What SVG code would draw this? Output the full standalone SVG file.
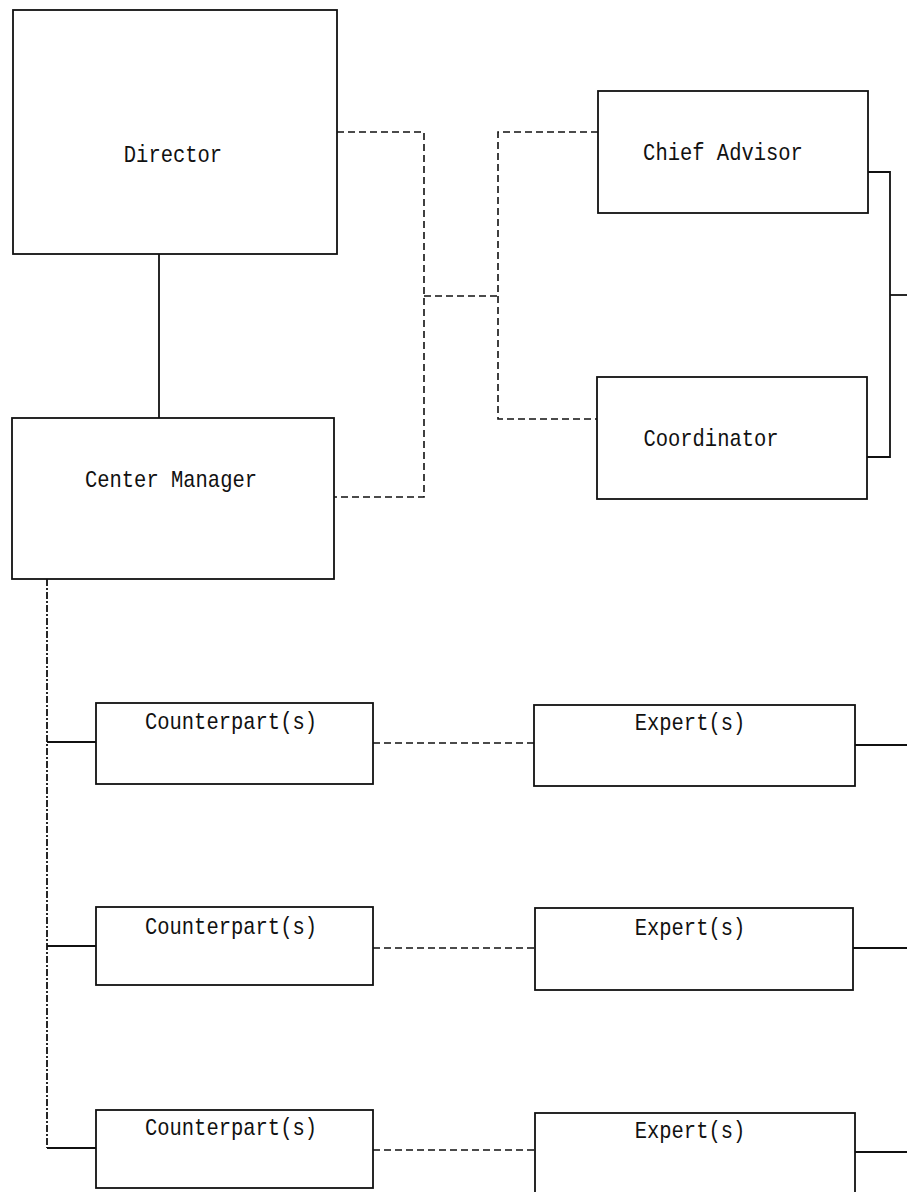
<svg xmlns="http://www.w3.org/2000/svg" width="907" height="1192" viewBox="0 0 907 1192">
  <style>
    .box { fill: #ffffff; stroke: #111111; stroke-width: 1.8; }
    .lbl { font-family: "Liberation Mono", "DejaVu Sans Mono", monospace; font-size: 20.5px; fill: #111111; text-anchor: middle; }
    .solid { fill: none; stroke: #111111; stroke-width: 1.8; }
    .trunk { fill: none; stroke: #111111; stroke-width: 1.8; stroke-dasharray: 7 2 2 2; }
    .dash { fill: none; stroke: #111111; stroke-width: 1.6; stroke-dasharray: 7 4; }
  </style>
  <rect width="907" height="1192" fill="#ffffff"/>

  <!-- connectors -->
  <g id="connectors">
    <!-- Director to Center Manager -->
    <line class="solid" x1="159" y1="254" x2="159" y2="418"/>
    <!-- advisory links (dashed) -->
    <polyline class="dash" points="337,132 424,132 424,497 334,497"/>
    <line class="dash" x1="424" y1="296" x2="498" y2="296"/>
    <polyline class="dash" points="598,132 498,132 498,419 597,419"/>
    <!-- Chief Advisor / Coordinator bracket -->
    <polyline class="solid" points="868,172 890,172 890,457 867,457"/>
    <line class="solid" x1="890" y1="295" x2="907" y2="295"/>
    <!-- trunk from Center Manager to counterparts -->
    <line class="trunk" x1="47" y1="579" x2="47" y2="1148"/>
    <line class="solid" x1="47" y1="1148" x2="96" y2="1148"/>
    <line class="solid" x1="47" y1="742" x2="96" y2="742"/>
    <line class="solid" x1="47" y1="946" x2="96" y2="946"/>
    <!-- counterpart to expert (dashed) -->
    <line class="dash" x1="373" y1="743" x2="534" y2="743"/>
    <line class="dash" x1="373" y1="948" x2="535" y2="948"/>
    <line class="dash" x1="373" y1="1150" x2="535" y2="1150"/>
    <!-- experts continuing right -->
    <line class="solid" x1="855" y1="745" x2="907" y2="745"/>
    <line class="solid" x1="853" y1="948" x2="907" y2="948"/>
    <line class="solid" x1="855" y1="1152" x2="907" y2="1152"/>
  </g>

  <!-- labels are stretched vertically for the tall, narrow lettering -->
  <g id="director">
    <rect class="box" x="13" y="10" width="324" height="244"/>
    <text class="lbl" transform="translate(173,162) scale(1,1.2)">Director</text>
  </g>
  <g id="chief-advisor">
    <rect class="box" x="598" y="91" width="270" height="122"/>
    <text class="lbl" transform="translate(723,160) scale(1,1.2)">Chief Advisor</text>
  </g>
  <g id="coordinator">
    <rect class="box" x="597" y="377" width="270" height="122"/>
    <text class="lbl" transform="translate(711,446) scale(1,1.2)">Coordinator</text>
  </g>
  <g id="center-manager">
    <rect class="box" x="12" y="418" width="322" height="161"/>
    <text class="lbl" transform="translate(171,487) scale(1,1.2)">Center Manager</text>
  </g>

  <g id="counterpart-1">
    <rect class="box" x="96" y="703" width="277" height="81"/>
    <text class="lbl" transform="translate(231,729) scale(1,1.2)">Counterpart(s)</text>
  </g>
  <g id="expert-1">
    <rect class="box" x="534" y="705" width="321" height="81"/>
    <text class="lbl" transform="translate(690,730) scale(1,1.2)">Expert(s)</text>
  </g>
  <g id="counterpart-2">
    <rect class="box" x="96" y="907" width="277" height="78"/>
    <text class="lbl" transform="translate(231,934) scale(1,1.2)">Counterpart(s)</text>
  </g>
  <g id="expert-2">
    <rect class="box" x="535" y="908" width="318" height="82"/>
    <text class="lbl" transform="translate(690,935) scale(1,1.2)">Expert(s)</text>
  </g>
  <g id="counterpart-3">
    <rect class="box" x="96" y="1110" width="277" height="78"/>
    <text class="lbl" transform="translate(231,1135) scale(1,1.2)">Counterpart(s)</text>
  </g>
  <g id="expert-3">
    <rect class="box" x="535" y="1113" width="320" height="84"/>
    <text class="lbl" transform="translate(690,1138) scale(1,1.2)">Expert(s)</text>
  </g>
</svg>
